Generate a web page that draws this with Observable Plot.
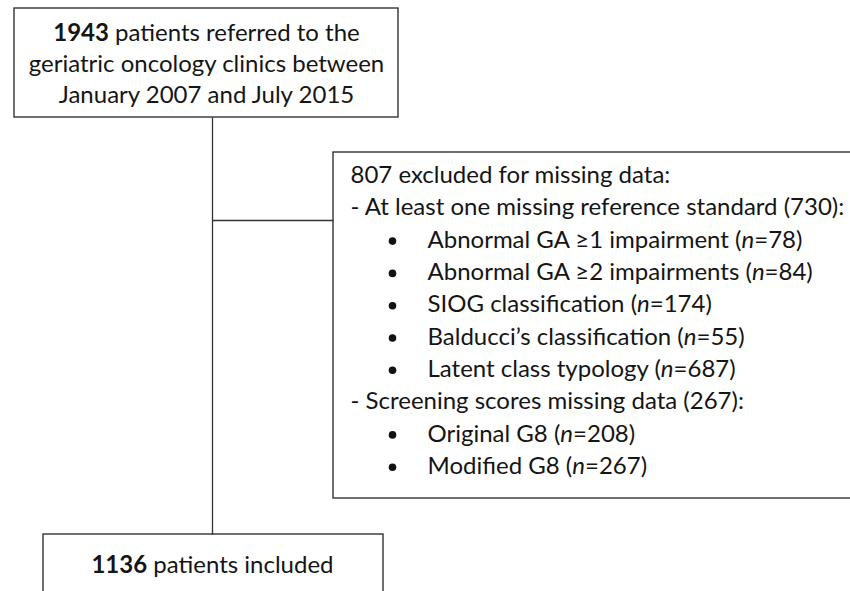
<!DOCTYPE html>
<html><head><meta charset="utf-8">
<script src="https://cdn.jsdelivr.net/npm/d3@7"></script>
<script src="https://cdn.jsdelivr.net/npm/@observablehq/plot@0.6"></script>
<style>html,body{margin:0;padding:0;background:#fff;overflow:hidden}</style>
</head><body><div id="chart"></div>
<script>
// ---- data ----
const referredCount = 1943;
const referredText = ["patients referred to the", "geriatric oncology clinics between", "January 2007 and July 2015"];
const excludedCount = 807;
const refStdMissing = 730;
const refStdCategories = ["Abnormal GA ≥1 impairment", "Abnormal GA ≥2 impairments", "SIOG classification", "Balducci’s classification", "Latent class typology"];
const refStdCounts = [78, 84, 174, 55, 687];
const screeningMissing = 267;
const screeningCategories = ["Original G8", "Modified G8"];
const screeningCounts = [208, 267];
const includedCount = 1136;

// ---- layout (pixels) ----
const W = 850, H = 591;
const FONT = "Lato, 'Open Sans', sans-serif";
const FS = 24;
const boxes = [
  {x1: 14, x2: 398, y1: 8, y2: 117},
  {x1: 333, x2: 870, y1: 152, y2: 498},
  {x1: 43, x2: 383, y1: 534, y2: 620}
];
const trunkX = 212;
const links = [
  {x1: trunkX, y1: 117, x2: trunkX, y2: 534},
  {x1: trunkX, y1: 220, x2: 333, y2: 220}
];

const topLines = [`**${referredCount}** ${referredText[0]}`, referredText[1], referredText[2]]
  .map((t, i) => ({t, x: 206, y: 33 + i * 31}));
const exLines = [
  {t: `${excludedCount} excluded for missing data:`, b: false},
  {t: `- At least one missing reference standard (${refStdMissing}):`, b: false},
  ...refStdCategories.map((c, i) => ({t: `${c} (_n_=${refStdCounts[i]})`, b: true})),
  {t: `- Screening scores missing data (${screeningMissing}):`, b: false},
  ...screeningCategories.map((c, i) => ({t: `${c} (_n_=${screeningCounts[i]})`, b: true}))
].map((d, i) => ({...d, x: d.b ? 427 : 350, y: 175 + i * 32.3}));
const bullets = exLines.filter(d => d.b).map(d => ({x: 392, y: d.y + 1}));
const botLines = [{t: `**${includedCount}** patients included`, x: 212, y: 565}];

const plot = Plot.plot({
  width: W, height: H, margin: 0,
  x: {domain: [0, W], range: [0, W], axis: null},
  y: {domain: [0, H], range: [0, H], axis: null},
  style: {fontFamily: FONT, background: "#fff"},
  marks: [
    Plot.rect(boxes, {x1: "x1", x2: "x2", y1: "y1", y2: "y2", fill: "white", stroke: "#333", strokeWidth: 1.4, clip: true}),
    Plot.link(links, {x1: "x1", y1: "y1", x2: "x2", y2: "y2", stroke: "#333", strokeWidth: 1.3}),
    Plot.text(topLines, {x: "x", y: "y", text: "t", fontSize: FS, fill: "#151515", textAnchor: "middle"}),
    Plot.text(exLines, {x: "x", y: "y", text: "t", fontSize: FS, fill: "#151515", textAnchor: "start"}),
    Plot.dot(bullets, {x: "x", y: "y", r: 3.8, fill: "#111", stroke: "none"}),
    Plot.text(botLines, {x: "x", y: "y", text: "t", fontSize: FS, fill: "#151515", textAnchor: "middle"})
  ]
});

// rich text: **bold**, _italic_
plot.querySelectorAll("text").forEach(el => {
  const s = el.textContent;
  if (!/\*\*|_/.test(s)) return;
  const parts = s.split(/(\*\*[^*]+\*\*|_[^_]+_)/).filter(p => p.length);
  while (el.firstChild) el.removeChild(el.firstChild);
  for (const p of parts) {
    const ts = document.createElementNS("http://www.w3.org/2000/svg", "tspan");
    if (p.startsWith("**")) { ts.textContent = p.slice(2, -2); ts.setAttribute("font-weight", "bold"); }
    else if (p.startsWith("_")) { ts.textContent = p.slice(1, -1); ts.setAttribute("font-style", "italic"); }
    else ts.textContent = p;
    el.appendChild(ts);
  }
});
document.getElementById("chart").appendChild(plot);
</script>
</body></html>
